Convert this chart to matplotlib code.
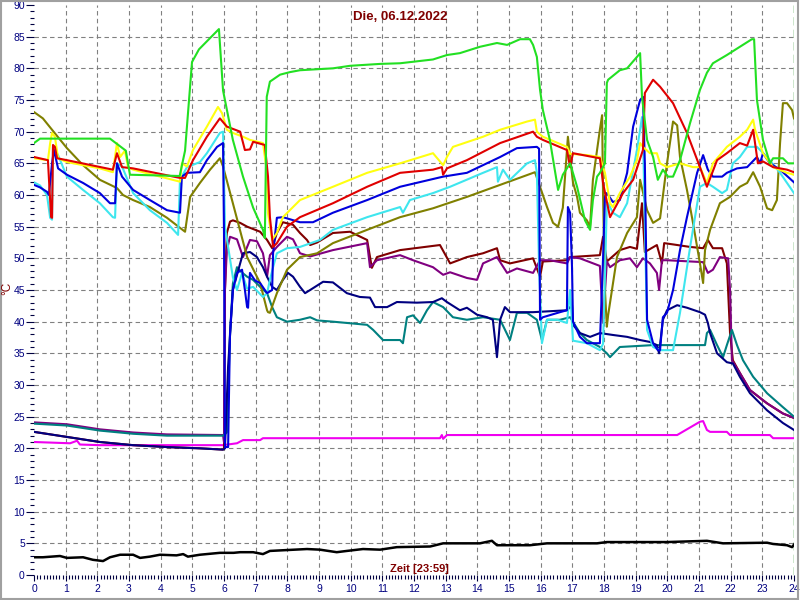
import matplotlib
matplotlib.use("Agg")
import matplotlib.pyplot as plt
from matplotlib.ticker import MultipleLocator
from matplotlib.patches import Rectangle

plt.rcParams['font.family'] = ['Liberation Sans', 'DejaVu Sans']

title = "Die, 06.12.2022"
xlabel_text = "Zeit [23:59]"
ylabel_text = "°C"

# ---- series data: hours and °C values ----
green_h = [0, 0.19, 2.4, 2.9, 3.03, 4.6, 4.77, 4.99, 5.21, 5.84, 5.97, 6.28, 6.6, 6.92, 7.23, 7.29, 7.35, 7.45, 7.77, 8.08, 8.4, 9.44, 9.98, 10.93, 11.56, 12.6, 13.04, 13.45, 14.08, 14.62, 14.94, 15.35, 15.66, 15.76, 15.88, 15.98, 16.07, 16.29, 16.55, 16.7, 16.93, 17.15, 17.4, 17.56, 17.65, 17.78, 17.87, 18.03, 18.09, 18.13, 18.5, 18.73, 19.04, 19.14, 19.2, 19.36, 19.55, 19.7, 19.86, 20.02, 20.18, 20.4, 20.72, 21.03, 21.25, 21.44, 21.88, 22.29, 22.67, 22.74, 22.83, 23.02, 23.24, 23.34, 23.65, 23.81, 24]
green_v = [68.2, 68.9, 68.9, 67, 63.2, 63, 67, 81, 83, 86.2, 76.5, 68.7, 62.9, 58, 54.5, 53.2, 75.5, 77.9, 79, 79.4, 79.7, 80, 80.4, 80.7, 80.8, 81.4, 82.1, 82.4, 83.4, 84, 83.7, 84.6, 84.6, 83.7, 81.8, 76.6, 73.4, 68.7, 60.8, 63.2, 65, 61.3, 56, 54.5, 59.2, 62.9, 63.5, 65, 77.7, 78.2, 79.7, 80, 81.8, 82.4, 75.5, 68.7, 66, 62.4, 64, 62.9, 62.9, 65.5, 71.4, 76.6, 79.3, 80.8, 82.1, 83.4, 84.6, 84.6, 75, 68.7, 65, 65.8, 65.8, 65, 65]

yellow_h = [0, 0.44, 0.51, 0.57, 0.66, 0.76, 1.04, 2.08, 2.49, 2.62, 2.72, 2.87, 2.97, 3.13, 4.61, 4.67, 4.83, 5.02, 5.46, 5.81, 5.94, 6.09, 6.28, 6.6, 6.82, 7.23, 7.36, 7.39, 7.52, 7.67, 7.86, 8.4, 9.44, 10.52, 11.56, 12.6, 12.92, 13.04, 13.23, 14.18, 14.72, 15.57, 15.82, 15.88, 16.07, 16.83, 16.93, 17.46, 17.87, 18.03, 18.19, 18.28, 18.5, 18.82, 19.04, 19.14, 19.23, 19.45, 19.67, 19.77, 19.99, 20.4, 20.81, 21.03, 21.25, 21.44, 21.88, 22.29, 22.52, 22.71, 22.77, 23.02, 23.34, 23.78, 24]
yellow_v = [65.8, 65.5, 68.2, 69.8, 69.2, 65.8, 65.2, 64.2, 63.6, 68.2, 66, 67, 64.4, 64, 62.1, 65, 64.5, 67.1, 70.8, 73.9, 72.9, 70.3, 69.8, 69.2, 68.7, 68.2, 63.5, 57.1, 52.9, 54, 56.5, 59.2, 61.3, 63.5, 65, 66.6, 64.7, 66, 67.6, 69.2, 70.3, 71.6, 71.9, 70, 69.2, 67.6, 66.5, 66.3, 66, 63.5, 58.7, 58.1, 60.3, 62.9, 65.5, 68.2, 67.6, 66.6, 66.6, 65, 64.4, 65, 64.4, 64.4, 61.9, 65, 67.6, 69.2, 70.3, 71.9, 70.3, 66.6, 64.4, 63.5, 63.2]

red_h = [0, 0.44, 0.47, 0.54, 0.57, 0.6, 0.66, 0.73, 1.04, 2.49, 2.62, 2.78, 3.13, 4.61, 4.77, 5.02, 5.46, 5.87, 6.09, 6.51, 6.66, 6.82, 6.92, 7.29, 7.39, 7.45, 7.55, 7.67, 7.99, 8.4, 9.44, 10.52, 11.56, 12.6, 12.88, 12.92, 13.04, 13.67, 14.72, 15.76, 15.88, 16.07, 16.83, 16.93, 17.02, 17.65, 17.87, 17.97, 18.19, 18.6, 18.92, 19.23, 19.29, 19.55, 19.77, 20.18, 20.62, 21.03, 21.25, 21.57, 21.88, 22.29, 22.52, 22.71, 22.86, 23.02, 23.34, 23.78, 24]
red_v = [66, 65.5, 62.7, 56.5, 56.4, 67.9, 67.6, 65.8, 65.5, 64, 66.6, 64.4, 64.2, 62.7, 62.7, 65.5, 69.2, 72.1, 70.8, 70, 67.1, 67.2, 68.4, 67.9, 62.9, 56.5, 51.8, 52.4, 55, 56.5, 58.7, 61.3, 63.5, 64, 64.4, 63.2, 64.2, 65.5, 68.2, 70, 69.2, 68.7, 67.1, 64.4, 66.6, 66, 65.8, 61.9, 56.5, 60.3, 62.4, 67.1, 76.1, 78.2, 77.1, 74.5, 69.8, 64.4, 61.3, 65.5, 66.6, 68.2, 67.8, 70.3, 65, 65.3, 64.4, 64, 63.6]

blue_h = [0, 0.19, 0.41, 0.47, 0.57, 0.63, 0.76, 1.04, 1.55, 2.08, 2.4, 2.56, 2.62, 2.78, 3.13, 3.66, 4.2, 4.61, 4.67, 4.83, 5.24, 5.46, 5.78, 5.97, 6.0, 6.03, 6.13, 6.19, 6.28, 6.41, 6.57, 6.66, 6.73, 6.76, 6.82, 6.98, 7.14, 7.29, 7.36, 7.52, 7.55, 7.67, 7.86, 8.4, 8.81, 9.44, 10.52, 11.56, 12.92, 13.67, 14.72, 15.25, 15.88, 15.95, 15.98, 16.07, 16.61, 16.83, 16.86, 16.93, 16.99, 17.02, 17.24, 17.46, 17.87, 17.97, 18.03, 18.09, 18.28, 18.5, 18.73, 18.92, 19.14, 19.23, 19.29, 19.36, 19.55, 19.7, 19.77, 19.86, 19.99, 20.18, 20.4, 20.62, 20.94, 21.13, 21.28, 21.44, 21.73, 21.88, 22.2, 22.52, 22.83, 22.93, 23.02, 23.24, 23.56, 24]
blue_v = [61.6, 61.2, 60.5, 60, 65, 67.1, 64.2, 63.2, 61.9, 60.3, 58.7, 58.7, 65, 62.9, 60.8, 59.2, 57.6, 57.2, 62.9, 63.5, 63.6, 65.5, 67.6, 68.2, 54, 20.2, 20.2, 38.2, 45, 47.7, 48.2, 45, 42.3, 42.2, 47.7, 46.5, 46.1, 45, 44.5, 45, 50.8, 56.4, 56.5, 55.7, 55.7, 57.2, 59.2, 61.3, 62.9, 63.5, 66, 67.4, 67.6, 67.3, 40.3, 40.7, 41.5, 41.8, 58.1, 57.2, 48.6, 40, 37.6, 36.6, 36.6, 50, 59.7, 60.3, 58.9, 59.2, 63.5, 70.8, 75, 75.5, 65, 40.3, 36.6, 35.5, 35.5, 40.7, 41.4, 45, 51.3, 56.5, 63.5, 66.3, 64, 62.9, 62.9, 63.5, 64.2, 64.4, 66, 65, 66.6, 65, 64, 62]

cyan_h = [0, 0.19, 0.41, 0.51, 0.57, 0.6, 0.76, 1.04, 1.55, 2.08, 2.49, 2.56, 2.62, 2.78, 3.13, 3.66, 4.2, 4.55, 4.61, 4.83, 5.24, 5.46, 5.87, 5.97, 6.03, 6.28, 6.41, 6.57, 6.73, 6.92, 7.23, 7.36, 7.45, 7.55, 7.67, 7.99, 8.4, 9.03, 9.44, 10.52, 11.56, 11.65, 11.87, 12.6, 13.14, 14.18, 14.62, 14.65, 14.81, 15.03, 15.57, 15.82, 15.88, 15.95, 16.04, 16.2, 16.52, 16.83, 16.93, 17.02, 17.46, 17.87, 17.97, 18.09, 18.13, 18.28, 18.5, 18.73, 19.04, 19.2, 19.23, 19.36, 19.55, 19.77, 20.18, 20.4, 20.72, 21.03, 21.25, 21.44, 21.73, 21.88, 22.07, 22.29, 22.52, 22.83, 23.15, 23.56, 24]
cyan_v = [62, 61.5, 60, 56.4, 56.1, 67.6, 66.3, 62.9, 60.8, 58.7, 56.5, 56.4, 65, 64.5, 60.3, 57.6, 55.6, 53.7, 62.4, 64.4, 65.2, 66.6, 69.8, 70, 55, 47, 45, 47.7, 45.2, 45.5, 43.9, 44.5, 46.6, 48.6, 50.8, 51.6, 51.8, 52.9, 54.5, 56.5, 58.1, 57.2, 59.2, 60.3, 61.3, 63.5, 64.4, 62.1, 64, 62.4, 65, 65.5, 63.5, 48.6, 36.6, 40.3, 40.3, 39.8, 45, 37, 36.6, 35.5, 36.5, 58.5, 58.7, 57.2, 56.5, 58.7, 67.1, 72.3, 70, 38.7, 36, 35.5, 35.5, 41.4, 51.8, 61.3, 61.9, 61.3, 60.3, 60.8, 65, 66, 67.6, 67.6, 66, 63.5, 60.3]

olive_h = [0, 0.28, 0.57, 1.04, 1.55, 2.08, 2.62, 2.81, 3.13, 3.66, 4.2, 4.77, 4.93, 5.24, 5.56, 5.87, 5.97, 6.28, 6.73, 7.14, 7.36, 7.39, 7.45, 7.67, 7.99, 8.4, 8.94, 9.44, 10.52, 11.56, 12.6, 13.67, 14.72, 15.82, 15.98, 16.2, 16.39, 16.55, 16.7, 16.86, 16.93, 17.02, 17.15, 17.24, 17.46, 17.56, 17.65, 17.87, 17.94, 17.97, 18.03, 18.09, 18.13, 18.41, 18.73, 19.04, 19.14, 19.36, 19.55, 19.77, 19.99, 20.18, 20.31, 20.4, 20.62, 20.81, 21.03, 21.13, 21.19, 21.35, 21.66, 21.98, 22.29, 22.52, 22.71, 22.93, 23.15, 23.31, 23.46, 23.56, 23.65, 23.78, 23.94, 24]
olive_v = [73.1, 72.1, 70.3, 67.4, 64.7, 62.4, 61.1, 60, 59.2, 58.1, 56.4, 54.2, 59.7, 61.9, 64, 65.8, 64.5, 58.7, 50.2, 46.1, 41.8, 41.5, 41.4, 44.5, 48.2, 50.2, 50.8, 52.4, 54.5, 56.5, 57.9, 59.7, 61.6, 63.6, 61.3, 58.1, 55.6, 55, 58, 69.2, 66, 62, 59.7, 57.2, 56, 55, 62.4, 70.3, 72.6, 60, 45, 39.2, 41, 50.2, 54, 56.5, 62.4, 57.6, 55.6, 56.3, 65, 71.6, 71, 66, 60.8, 55.6, 49.2, 46.1, 51.3, 54.5, 58.7, 59.7, 61.3, 61.9, 63.6, 61.3, 57.9, 57.6, 59.2, 68.2, 74.5, 74.5, 73.4, 72.1]

maroon_h = [0, 1.04, 2.08, 3.13, 4.2, 5.24, 5.97, 6.0, 6.03, 6.09, 6.19, 6.28, 6.51, 6.73, 7.14, 7.36, 7.52, 7.67, 7.86, 8.18, 8.4, 8.62, 8.72, 8.94, 9.44, 9.98, 10.52, 10.67, 10.83, 11.56, 12.82, 13.14, 13.67, 14.18, 14.62, 14.72, 15.03, 15.76, 15.98, 16.07, 16.83, 16.93, 17.87, 17.97, 18.09, 18.5, 18.82, 19.04, 19.2, 19.29, 19.67, 19.83, 19.9, 20.18, 20.72, 21.13, 21.28, 21.44, 21.73, 21.88, 21.98, 22.07, 22.29, 22.61, 23.15, 23.65, 24]
maroon_v = [22.6, 21.8, 21, 20.5, 20.2, 20, 19.8, 20, 45, 54, 55.8, 56, 55.6, 55, 54.2, 52.9, 51.6, 54, 55.7, 55.3, 54, 52.9, 52.1, 52.5, 54, 54.2, 52.9, 48.5, 50.2, 51.3, 52.1, 49.2, 50.2, 50.8, 51.6, 49.7, 49.2, 50, 47.1, 49.5, 49.7, 50.2, 50.5, 53.4, 49.5, 51.3, 51.8, 51.5, 58.7, 51, 52.1, 49.2, 52.4, 52.2, 51.8, 51.6, 52.9, 51.6, 51.6, 49.2, 38.2, 33.9, 31.9, 29.2, 27.1, 25.5, 24.8]

purple_h = [0, 1.04, 2.08, 3.13, 4.2, 5.97, 6.0, 6.03, 6.09, 6.19, 6.41, 6.6, 6.82, 7.04, 7.23, 7.36, 7.45, 7.67, 7.99, 8.18, 8.4, 8.72, 9.44, 10.52, 10.61, 10.83, 11.56, 11.97, 12.6, 12.92, 13.14, 13.67, 13.99, 14.18, 14.62, 14.94, 15.25, 15.76, 15.98, 16.29, 16.83, 16.93, 17.24, 17.87, 17.97, 18.09, 18.19, 18.5, 18.82, 19.04, 19.23, 19.45, 19.67, 19.74, 19.83, 19.99, 21.13, 21.28, 21.44, 21.66, 21.92, 21.98, 22.04, 22.29, 22.61, 23.15, 23.65, 24]
purple_v = [24.1, 23.8, 23.0, 22.5, 22.2, 22.1, 21, 45, 51.3, 53.4, 53, 50.2, 52.9, 52.7, 50.8, 47.1, 50.5, 51.8, 53.4, 53, 50.8, 50.3, 51.3, 52.4, 48.6, 49.7, 50.5, 49.7, 48.6, 47.4, 47.8, 46.9, 46.6, 49.2, 50.2, 47.7, 48.4, 47.7, 49.7, 49.7, 49.2, 50.2, 50, 48.8, 39.8, 49.5, 48.6, 49.7, 50, 48.6, 50, 49.2, 47.7, 45, 49.7, 49.7, 49.4, 47.7, 48.2, 50.2, 50, 45, 33.9, 31.9, 29.2, 27.1, 25.5, 24.8]

navy_h = [0, 1.04, 2.08, 3.13, 4.2, 5.24, 5.97, 6.03, 6.13, 6.28, 6.51, 6.6, 6.82, 7.04, 7.23, 7.36, 7.52, 7.67, 7.86, 8.02, 8.18, 8.4, 8.56, 8.72, 9.13, 9.44, 9.88, 10.29, 10.61, 10.77, 11.15, 11.46, 12.09, 12.6, 12.88, 13.04, 13.45, 13.67, 13.99, 14.31, 14.49, 14.62, 14.72, 14.87, 15.03, 15.76, 16.83, 16.99, 17.02, 17.24, 17.56, 17.87, 18.28, 18.73, 19.14, 19.45, 19.67, 19.74, 19.86, 19.99, 20.31, 20.62, 21.03, 21.19, 21.28, 21.35, 21.57, 21.88, 22.07, 22.29, 22.61, 23.15, 23.65, 24]
navy_v = [22.6, 21.8, 21, 20.5, 20.2, 20, 19.8, 20, 33, 45, 49.2, 50.8, 51, 50.2, 48.6, 47.1, 45.5, 45, 46.6, 47.7, 47.1, 45.5, 44.5, 45, 46.3, 46.2, 44.5, 43.9, 43.8, 42.3, 42.3, 43.1, 43, 43.1, 43.7, 43.1, 41.8, 42.2, 41.1, 40.7, 40.3, 34.4, 40.3, 42.3, 41.5, 41.5, 41.8, 42.6, 39.5, 38.2, 37.6, 38.2, 37.9, 37.6, 37.1, 36.8, 36.3, 35, 40.3, 41.8, 42.6, 42.2, 41.5, 41.1, 39.8, 38.2, 35, 33.6, 33.4, 31.3, 28.7, 26, 24, 22.9]

teal_h = [0, 1.04, 2.08, 3.13, 4.2, 5.97, 6.09, 6.19, 6.28, 6.41, 6.51, 6.73, 6.92, 7.14, 7.36, 7.52, 7.67, 7.99, 8.4, 8.72, 8.94, 9.44, 10.52, 10.71, 11.02, 11.56, 11.65, 11.78, 11.97, 12.19, 12.41, 12.6, 12.92, 13.23, 13.67, 14.18, 14.72, 15.03, 15.25, 15.57, 15.88, 16.04, 16.2, 16.61, 16.93, 17.24, 17.46, 17.87, 18.09, 18.19, 18.5, 19.55, 20.18, 21.03, 21.19, 21.25, 21.35, 21.57, 21.76, 21.88, 22.04, 22.2, 22.39, 22.71, 23.15, 23.65, 24]
teal_v = [23.9, 23.6, 22.8, 22.3, 22.0, 22.0, 22.5, 38, 46, 48.6, 48, 47.1, 46.6, 45.5, 44.5, 42.3, 40.7, 40, 40.3, 40.7, 40.2, 40, 39.5, 38.7, 37.1, 37.1, 36.6, 40.7, 41, 39.8, 41.8, 43.1, 42.3, 40.7, 40.3, 40.7, 40.3, 37.1, 41.4, 41.4, 40.3, 37.1, 40.3, 40.3, 40.7, 38.2, 37.1, 36, 35, 34.4, 36, 36.3, 36.3, 36.3, 36.3, 38.2, 38.7, 36.3, 34.4, 36.3, 38.7, 36.3, 33.9, 31.3, 28.7, 26.5, 25]

magenta_h = [0, 1.14, 1.36, 1.45, 2.08, 5.97, 6.41, 6.6, 7.14, 7.23, 12.82, 12.88, 12.92, 13.04, 20.31, 21.03, 21.13, 21.25, 21.35, 21.88, 21.98, 23.24, 23.34, 24]
magenta_v = [21, 20.8, 21.2, 20.6, 20.5, 20.5, 20.8, 21.3, 21.3, 21.6, 21.6, 22.1, 21.5, 22.1, 22.1, 24.2, 24.3, 22.9, 22.6, 22.6, 22.1, 22.1, 21.6, 21.6]

black_h = [0, 0.28, 0.82, 1.04, 1.55, 1.86, 2.18, 2.4, 2.72, 3.13, 3.35, 3.66, 3.98, 4.5, 4.71, 4.86, 5.24, 5.87, 6.3, 6.51, 6.92, 7.23, 7.45, 8.62, 9.03, 9.56, 9.88, 10.39, 10.93, 11.46, 12.51, 12.92, 13.55, 14.08, 14.46, 14.62, 15.66, 16.2, 17.78, 18.09, 18.92, 19.99, 21.25, 21.76, 23.15, 23.34, 23.78, 23.94, 24]
black_v = [2.8, 2.8, 3.0, 2.7, 2.8, 2.4, 2.2, 2.8, 3.2, 3.2, 2.7, 2.9, 3.2, 3.1, 3.3, 2.9, 3.2, 3.5, 3.5, 3.6, 3.6, 3.3, 3.8, 4.1, 4.0, 3.6, 3.8, 4.1, 4.0, 4.4, 4.5, 5.0, 5.0, 5.0, 5.4, 4.7, 4.7, 5.0, 5.0, 5.2, 5.2, 5.2, 5.4, 5.0, 5.1, 4.9, 4.7, 4.4, 4.8]

series = [
    (black_h, black_v, '#000000', 1.8),
    (magenta_h, magenta_v, '#f000f0', 1.5),
    (maroon_h, maroon_v, '#800000', 1.5),
    (purple_h, purple_v, '#800080', 1.5),
    (teal_h, teal_v, '#008080', 1.5),
    (navy_h, navy_v, '#000080', 1.5),
    (olive_h, olive_v, '#808000', 1.5),
    (cyan_h, cyan_v, '#3ee6ee', 1.5),
    (blue_h, blue_v, '#0000dd', 1.5),
    (yellow_h, yellow_v, '#ffff10', 1.5),
    (red_h, red_v, '#e00000', 1.5),
    (green_h, green_v, '#22e022', 1.5),
]

fig = plt.figure(figsize=(8, 6), dpi=100)
fig.patch.set_facecolor('white')
ax = fig.add_axes([34/800, 25/600, 760/800, 570/600])
ax.set_xlim(0, 24)
ax.set_ylim(0, 90)
for s in ax.spines.values():
    s.set_visible(False)

grid_kw = dict(color='#808080', lw=0.8, linestyle=(0, (4, 3)), zorder=1)
for gy in range(5, 90, 5):
    ax.axhline(gy, **grid_kw)
for gx in range(1, 24):
    ax.axvline(gx, **grid_kw)
ax.axvline(24, color='#008000', lw=1.0, linestyle=(0, (6, 3)), zorder=1)

for h, v, c, lw in series:
    ax.plot(h, v, color=c, lw=lw, zorder=3, solid_joinstyle='round')

ax.xaxis.set_major_locator(MultipleLocator(1))
ax.xaxis.set_minor_locator(MultipleLocator(0.1))
ax.yaxis.set_major_locator(MultipleLocator(5))
ax.yaxis.set_minor_locator(MultipleLocator(1))
ax.tick_params(axis='y', which='major', direction='out', length=5.8, width=0.8,
               color='#000040', labelcolor='#000080', labelsize=7.5, pad=0.8)
ax.tick_params(axis='y', which='minor', direction='out', length=2.9, width=0.8, color='#000040')
ax.tick_params(axis='x', which='major', direction='out', length=4.5, width=0.8,
               color='#000040', labelcolor='#000080', labelsize=7.5, pad=2)
ax.tick_params(axis='x', which='minor', direction='out', length=2.9, width=0.8, color='#000040')

fig.text(0.5, 1 - 17.5/600, title, ha='center', va='center', fontsize=9.5,
         fontweight='bold', color='#800000')
fig.text(419/800, 1 - 568.5/600, xlabel_text, ha='center', va='center', fontsize=8,
         fontweight='bold', color='#800000')
fig.text(7.5/800, 1 - 288/600, ylabel_text, ha='center', va='center', fontsize=8.5,
         rotation=90, color='#800000')

fig.add_artist(Rectangle((0.001, 0.002), 0.997, 0.996, transform=fig.transFigure,
                         fill=False, edgecolor='#a0a0a0', lw=1.5))

fig.savefig('out.png', dpi=100)
